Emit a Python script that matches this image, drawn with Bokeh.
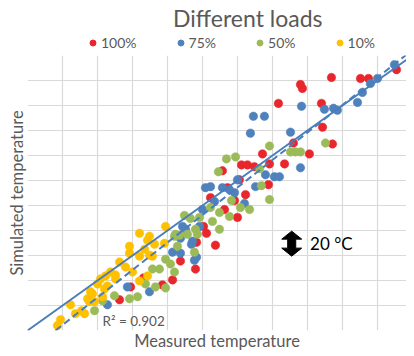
from bokeh.plotting import figure
from bokeh.layouts import column
from bokeh.models import Range1d, FixedTicker, Legend, LegendItem, Label
from bokeh.embed import file_html
from bokeh.resources import INLINE

# ---- data (°C; one grid step = 20 °C) ----
red_x = [210.9, 190.3, 194.9, 173.7, 156.0, 157.1, 143.4, 168.0, 168.6, 174.3, 161.1, 152.0, 146.9,
         134.3, 122.3, 125.7, 129.7, 138.3, 137.7, 111.4, 121.1, 114.3, 124.6, 104.6, 118.3, 120.0,
         112.6, 102.3, 100.6, 107.4, 96.6, 87.4, 96.0, 66.3, 77.1, 58.9, 52.6, 82.9]
red_y = [208.7, 201.6, 201.6, 202.4, 196.8, 193.7, 181.7, 181.7, 162.7, 149.2, 141.3, 150.0, 133.3,
         141.3, 132.5, 132.5, 131.0, 133.3, 116.7, 127.8, 120.6, 114.3, 108.7, 106.3, 104.0, 90.5,
         96.8, 77.8, 83.3, 68.3, 70.6, 55.6, 49.2, 42.1, 36.5, 34.9, 24.6, 40.5]

blue_x = [209.7, 200.0, 196.0, 191.4, 188.6, 156.6, 169.7, 174.9, 177.1, 129.1, 135.4, 127.4, 150.3,
          156.0, 136.0, 141.1, 144.0, 130.3, 101.7, 104.6, 111.4, 115.4, 118.3, 120.0, 106.9, 124.0,
          100.0, 98.3, 88.6, 90.3, 87.4, 94.3, 93.7, 82.9, 87.4, 96.6, 95.4, 57.1, 69.7, 45.7]
blue_y = [212.7, 201.6, 197.6, 190.5, 182.5, 179.4, 177.0, 177.8, 176.2, 171.4, 171.4, 157.9, 158.7,
          130.2, 124.6, 123.0, 123.0, 115.1, 114.3, 115.1, 114.3, 112.7, 110.3, 120.6, 103.2, 101.6,
          96.8, 83.3, 83.3, 81.0, 73.8, 71.4, 69.0, 62.7, 61.9, 58.7, 56.3, 34.9, 31.0, 20.6]

green_x = [170.3, 150.3, 153.1, 156.0, 138.3, 118.9, 113.7, 109.1, 132.6, 133.7, 138.3, 116.6, 121.7,
           126.9, 115.4, 109.7, 104.6, 98.3, 89.7, 93.1, 96.0, 109.7, 84.6, 91.4, 86.9, 97.1, 84.0,
           105.7, 95.4, 85.7, 78.9, 81.7, 71.4, 75.4, 84.0, 73.1, 67.4, 62.9, 58.3, 49.7, 42.9, 38.3, 78.9]
green_y = [150.0, 142.9, 142.9, 142.9, 147.6, 138.9, 137.3, 127.0, 129.4, 115.9, 104.8, 104.0, 98.4,
           96.8, 91.3, 94.4, 98.4, 90.5, 92.1, 89.7, 81.0, 81.0, 77.0, 77.0, 76.2, 77.0, 75.4,
           87.3, 62.7, 67.5, 57.1, 53.2, 49.2, 49.2, 46.8, 34.9, 37.3, 27.0, 25.4, 27.8, 23.8, 15.9, 34.1]

yellow_x = [78.9, 64.0, 69.7, 78.3, 68.6, 72.6, 58.3, 66.9, 69.7, 58.3, 64.0, 52.6, 56.0, 60.0, 47.4,
            44.6, 50.3, 41.7, 50.3, 64.0, 68.6, 40.0, 44.0, 45.7, 36.0, 37.1, 42.9, 34.3, 35.4, 38.3,
            24.6, 30.9, 27.4, 32.6, 18.9, 17.1, 71.4]
yellow_y = [83.3, 77.8, 75.4, 69.8, 72.2, 69.0, 67.5, 65.1, 60.3, 61.9, 59.5, 54.8, 50.8, 46.8, 46.8,
            43.7, 44.4, 41.3, 41.3, 39.7, 43.7, 37.3, 33.3, 35.7, 31.0, 29.4, 27.0, 25.4, 23.0, 23.0,
            20.6, 15.9, 13.5, 13.5, 8.7, 4.0, 59.5]

series_labels = ["100%", "75%", "50%", "10%"]
series_colors = ["#E8262B", "#4F81BD", "#9BBB59", "#FFC000"]
chart_title = "Different loads"

# 1:1 line and linear fit
fit_slope = 1.10
fit_intercept = -17.6
fit_x0 = 16.0
r2_text = "R\u00b2 = 0.902"

X_MAX = 216.6
Y_MAX = 220.0
GRID_STEP = 20

# scale arrow (20 °C)
arrow_x = 151.0
arrow_lo = 59.5
arrow_span = 20.0

FONT = "Lato"
GREY = "#595959"

# ---------------- header figure: title + legend ----------------
head = figure(width=406, height=55, output_backend="svg", toolbar_location=None,
              x_range=Range1d(0, 406), y_range=Range1d(0, 55),
              min_border_left=0, min_border_right=0, min_border_top=0, min_border_bottom=0)
head.axis.visible = False
head.grid.visible = False
head.outline_line_color = None
head.add_layout(Label(x=236, y=38, text=chart_title, text_font=FONT, text_font_size="23px",
                      text_color=GREY, text_align="center", text_baseline="middle"))

# ---------------- main figure ----------------
p = figure(frame_width=379, frame_height=275, output_backend="svg", toolbar_location=None,
           x_range=Range1d(0, X_MAX), y_range=Range1d(0, Y_MAX),
           min_border_left=27, min_border_right=0, min_border_bottom=18, min_border_top=0)

p.outline_line_color = None
p.background_fill_color = "white"
p.border_fill_color = "white"

p.xgrid.ticker = FixedTicker(ticks=list(range(0, 220, GRID_STEP)))
p.ygrid.ticker = FixedTicker(ticks=list(range(0, 240, GRID_STEP)))
for g in (p.xgrid, p.ygrid):
    g.grid_line_color = "#D9D9D9"
    g.grid_line_width = 1.2

p.xaxis.ticker = FixedTicker(ticks=[])
p.yaxis.ticker = FixedTicker(ticks=[])
for ax in (p.xaxis, p.yaxis):
    ax.major_tick_line_color = None
    ax.minor_tick_line_color = None
    ax.major_tick_out = 0
    ax.major_tick_in = 0
    ax.minor_tick_out = 0
    ax.axis_line_color = None
    ax.major_label_standoff = 0
    ax.axis_label_text_font = FONT
    ax.axis_label_text_font_size = "16.5px"
    ax.axis_label_text_color = GREY
    ax.axis_label_text_font_style = "normal"
p.xaxis.axis_label = "Measured temperature"
p.yaxis.axis_label = "Simulated temperature"
p.xaxis.axis_label_standoff = 0
p.yaxis.axis_label_standoff = 1

for xs, ys, col in zip([red_x, blue_x, green_x, yellow_x], [red_y, blue_y, green_y, yellow_y], series_colors):
    p.scatter(xs, ys, size=8.5, fill_color=col, line_color=col, line_width=0.5)

# lines
p.line([0, X_MAX], [0, X_MAX], line_color="#4A7EBB", line_width=2)
p.line([fit_x0, X_MAX], [fit_x0 * fit_slope + fit_intercept, X_MAX * fit_slope + fit_intercept],
       line_color="#4A7EBB", line_width=2, line_dash="7 4")

# arrow (double headed block arrow spanning 20 °C)
hw = 5.7   # head half-width (x units)
sw = 2.3   # shaft half-width
hl = 0.32 * arrow_span
a_top = arrow_lo + arrow_span
ax_pts = [arrow_x, arrow_x + hw, arrow_x + sw, arrow_x + sw, arrow_x + hw, arrow_x,
          arrow_x - hw, arrow_x - sw, arrow_x - sw, arrow_x - hw]
ay_pts = [a_top, a_top - hl, a_top - hl, arrow_lo + hl, arrow_lo + hl, arrow_lo,
          arrow_lo + hl, arrow_lo + hl, a_top - hl, a_top - hl]
p.patch(ax_pts, ay_pts, fill_color="black", line_color="black")

p.add_layout(Label(x=arrow_x + 10.5, y=arrow_lo + arrow_span / 2, text="20 \u00b0C", text_font=FONT,
                   text_font_size="17px", text_color="black", text_baseline="middle"))
p.add_layout(Label(x=42.9, y=7.9, text=r2_text, text_font=FONT,
                   text_font_size="13.5px", text_color=GREY, text_baseline="middle"))

# legend in the header: swatch renderers (one point each, outside the visible range)
swatches = [head.scatter([-100], [-100], size=8.5, fill_color=c, line_color=c) for c in series_colors]
legend = Legend(items=[LegendItem(label=l, renderers=[r]) for l, r in zip(series_labels, swatches)],
                orientation="horizontal", location=(58, 4),
                glyph_width=15, glyph_height=15, label_height=15, label_standoff=1, spacing=36,
                padding=0, margin=0, border_line_color=None, background_fill_alpha=0,
                label_text_font=FONT, label_text_font_size="14px", label_text_color=GREY)
head.add_layout(legend)

layout = column(head, p, spacing=0)
open("out.html", "w").write(file_html(layout, INLINE))
